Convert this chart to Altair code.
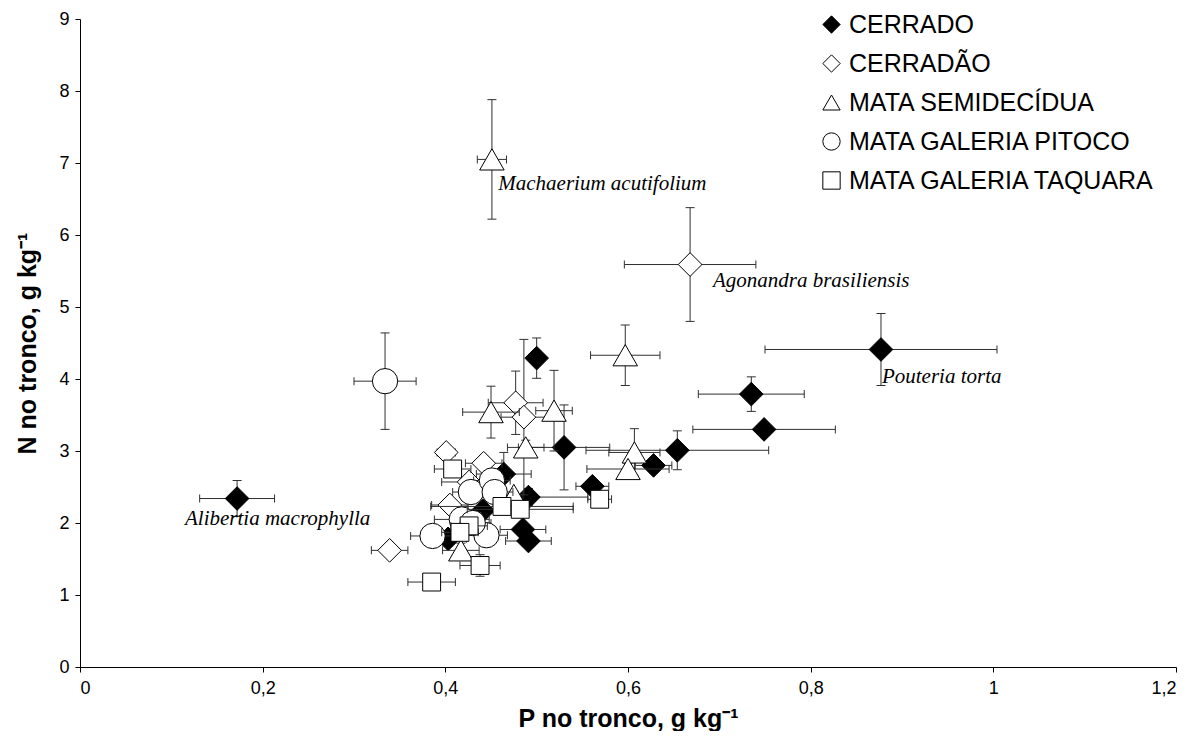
import altair as alt
import pandas as pd

groups = ["CERRADO", "CERRADÃO", "MATA SEMIDECÍDUA", "MATA GALERIA PITOCO", "MATA GALERIA TAQUARA"]
shapes = ["diamond", "diamond", "triangle-up", "circle", "square"]
fills = ["black", "white", "white", "white", "white"]
strokes = ["black", "black", "black", "black", "black"]
marker_sizes = [560, 560, 600, 640, 320]

# P (g/kg), N (g/kg), and their error half-widths, per vegetation type
cerrado_p = [0.172, 0.500, 0.530, 0.654, 0.628, 0.561, 0.735, 0.749, 0.877, 0.464, 0.491, 0.485, 0.491, 0.441, 0.403]
cerrado_n = [2.34, 4.29, 3.05, 3.01, 2.80, 2.51, 3.79, 3.30, 4.41, 2.68, 2.36, 1.91, 1.75, 2.17, 1.78]
cerrado_pe = [0.041, 0.006, 0.05, 0.10, 0.02, 0.018, 0.058, 0.078, 0.127, 0.03, 0.065, 0.025, 0.025, 0.02, 0.02]
cerrado_ne = [0.25, 0.28, 0.59, 0.27, 0.10, 0.08, 0.24, 0.05, 0.50, 0.30, 0.12, 0.08, 0.06, 0.10, 0.10]

cerradao_p = [0.668, 0.339, 0.401, 0.442, 0.426, 0.405, 0.477, 0.486]
cerradao_n = [5.59, 1.62, 2.98, 2.83, 2.57, 2.25, 3.67, 3.47]
cerradao_pe = [0.072, 0.02, 0.01, 0.02, 0.03, 0.02, 0.03, 0.025]
cerradao_ne = [0.79, 0.04, 0.05, 0.10, 0.10, 0.08, 0.44, 1.08]

semi_p = [0.451, 0.597, 0.450, 0.519, 0.488, 0.607, 0.600, 0.417, 0.475]
semi_n = [7.05, 4.33, 3.54, 3.56, 3.05, 2.98, 2.75, 1.62, 2.39]
semi_pe = [0.016, 0.038, 0.031, 0.02, 0.02, 0.028, 0.045, 0.02, 0.01]
semi_ne = [0.83, 0.42, 0.36, 0.56, 0.10, 0.33, 0.08, 0.10, 0.05]

pitoco_p = [0.334, 0.428, 0.451, 0.454, 0.386, 0.445, 0.418, 0.430]
pitoco_n = [3.97, 2.43, 2.59, 2.43, 1.82, 1.83, 2.05, 2.00]
pitoco_pe = [0.034, 0.02, 0.02, 0.02, 0.024, 0.023, 0.03, 0.02]
pitoco_ne = [0.67, 0.10, 0.10, 0.10, 0.08, 0.08, 0.08, 0.10]

taquara_p = [0.408, 0.462, 0.482, 0.426, 0.416, 0.438, 0.385, 0.569]
taquara_n = [2.75, 2.23, 2.19, 1.96, 1.87, 1.41, 1.18, 2.33]
taquara_pe = [0.02, 0.078, 0.058, 0.02, 0.02, 0.022, 0.026, 0.013]
taquara_ne = [0.06, 0.10, 0.10, 0.06, 0.06, 0.15, 0.04, 0.05]

ann_text = ["Machaerium acutifolium", "Agonandra brasiliensis", "Pouteria torta", "Alibertia macrophylla"]
ann_p = [0.458, 0.693, 0.878, 0.115]
ann_n = [6.63, 5.28, 3.95, 1.97]

x_ticks = [0, 0.2, 0.4, 0.6, 0.8, 1.0, 1.2]
y_ticks = [0, 1, 2, 3, 4, 5, 6, 7, 8, 9]

series = [
    (cerrado_p, cerrado_n, cerrado_pe, cerrado_ne),
    (cerradao_p, cerradao_n, cerradao_pe, cerradao_ne),
    (semi_p, semi_n, semi_pe, semi_ne),
    (pitoco_p, pitoco_n, pitoco_pe, pitoco_ne),
    (taquara_p, taquara_n, taquara_pe, taquara_ne),
]

rows = []
for g, (ps, ns, pes, nes) in zip(groups, series):
    for p, n, pe, ne in zip(ps, ns, pes, nes):
        rows.append({"group": g, "p": p, "n": n,
                     "p_lo": p - pe, "p_hi": p + pe,
                     "n_lo": n - ne, "n_hi": n + ne})
df = pd.DataFrame(rows)
ann = pd.DataFrame({"label": ann_text, "p": ann_p, "n": ann_n})

xs = alt.Scale(domain=[0, 1.2], nice=False, zero=False)
ys = alt.Scale(domain=[0, 9], nice=False, zero=False)
bar_color = "#303030"

x_title = "P no tronco, g kg⁻¹"
y_title = "N no tronco, g kg⁻¹"
x_axis = alt.Axis(values=x_ticks,
                  labelExpr="replace(format(datum.value, '~g'), '.', ',')",
                  labelFontSize=18, labelPadding=7, titlePadding=9)
y_axis = alt.Axis(values=y_ticks, labelFontSize=18, labelPadding=6, titlePadding=18)


def X(field):
    return alt.X(field, type="quantitative", scale=xs, axis=x_axis, title=x_title)


def Y(field):
    return alt.Y(field, type="quantitative", scale=ys, axis=y_axis, title=y_title)


base = alt.Chart(df)
layers = []
for i, g in enumerate(groups):
    b = base.transform_filter(alt.datum.group == g)
    hbar = b.mark_rule(color=bar_color, strokeWidth=1).encode(x=X("p_lo"), x2="p_hi:Q", y=Y("n"))
    vbar = b.mark_rule(color=bar_color, strokeWidth=1).encode(x=X("p"), y=Y("n_lo"), y2="n_hi:Q")
    cap_l = b.mark_tick(orient="vertical", size=8, thickness=1, color=bar_color, opacity=1).encode(
        x=X("p_lo"), y=Y("n"))
    cap_r = b.mark_tick(orient="vertical", size=8, thickness=1, color=bar_color, opacity=1).encode(
        x=X("p_hi"), y=Y("n"))
    cap_b = b.mark_tick(orient="horizontal", size=9, thickness=1, color=bar_color, opacity=1).encode(
        x=X("p"), y=Y("n_lo"))
    cap_t = b.mark_tick(orient="horizontal", size=9, thickness=1, color=bar_color, opacity=1).encode(
        x=X("p"), y=Y("n_hi"))
    pts = b.mark_point(filled=True, opacity=1, strokeWidth=1, size=marker_sizes[i]).encode(
        x=X("p"), y=Y("n"),
        fill=alt.Fill("group:N", scale=alt.Scale(domain=groups, range=fills), title=None),
        shape=alt.Shape("group:N", scale=alt.Scale(domain=groups, range=shapes), title=None),
        stroke=alt.Stroke("group:N", scale=alt.Scale(domain=groups, range=strokes), title=None),
    )
    layers += [hbar, vbar, cap_l, cap_r, cap_b, cap_t, pts]

labels = alt.Chart(ann).mark_text(align="left", baseline="alphabetic", font="Liberation Serif",
                                  fontStyle="italic", fontSize=21, color="black").encode(
    x=X("p"), y=Y("n"), text="label:N")
layers.append(labels)

chart = alt.layer(*layers).properties(
    width=1096, height=648,
    padding={"left": 72, "top": 11, "right": 7, "bottom": 64},
    autosize=alt.AutoSizeParams(type="none"),
    background="white",
).configure_view(stroke=None).configure_axis(
    grid=False, domainColor="black", tickColor="black", tickSize=5,
    labelFont="Liberation Sans", labelColor="black",
    titleFont="Liberation Sans", titleFontSize=25, titleFontWeight="bold", titleColor="black",
).configure_legend(
    orient="none", legendX=739, legendY=-7, labelFont="Liberation Sans", labelFontSize=25,
    labelColor="black", symbolSize=300, symbolStrokeWidth=1, symbolStrokeColor="black",
    rowPadding=13, labelOffset=5, padding=0, labelLimit=0,
)

chart.save("out.html", embed_options={"renderer": "svg", "actions": False})
